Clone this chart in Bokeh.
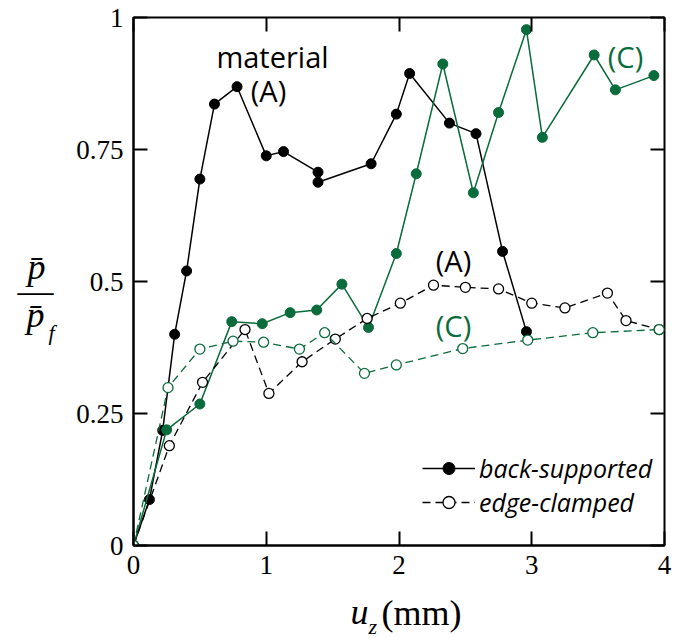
from bokeh.plotting import figure
from bokeh.models import (Range1d, FixedTicker, LinearAxis, Label, Legend, LegendItem,
                          CustomJSTickFormatter)
from bokeh.layouts import row, column
from bokeh.embed import file_html
from bokeh.resources import INLINE

# ---- data ----
a_back_x = [0, 0.12, 0.22, 0.31, 0.40, 0.50, 0.61, 0.78, 1.00, 1.13, 1.39, 1.39, 1.79, 1.98, 2.08, 2.38, 2.58, 2.78, 2.96]
a_back_y = [0, 0.087, 0.218, 0.40, 0.52, 0.694, 0.836, 0.869, 0.738, 0.746, 0.707, 0.688, 0.723, 0.817, 0.894, 0.80, 0.78, 0.557, 0.405]

c_back_x = [0, 0.25, 0.50, 0.74, 0.97, 1.18, 1.38, 1.57, 1.77, 1.98, 2.13, 2.33, 2.56, 2.75, 2.96, 3.08, 3.47, 3.63, 3.92]
c_back_y = [0, 0.219, 0.268, 0.424, 0.420, 0.441, 0.446, 0.495, 0.413, 0.553, 0.704, 0.912, 0.668, 0.820, 0.977, 0.773, 0.929, 0.863, 0.890]

a_edge_x = [0, 0.27, 0.52, 0.84, 1.02, 1.27, 1.52, 1.76, 2.01, 2.26, 2.50, 2.75, 3.00, 3.25, 3.57, 3.71, 3.96]
a_edge_y = [0, 0.189, 0.309, 0.409, 0.288, 0.348, 0.391, 0.430, 0.459, 0.493, 0.489, 0.486, 0.459, 0.450, 0.478, 0.426, 0.409]

c_edge_x = [0, 0.26, 0.50, 0.75, 0.98, 1.25, 1.44, 1.74, 1.98, 2.48, 2.97, 3.46, 3.96]
c_edge_y = [0, 0.299, 0.372, 0.387, 0.385, 0.372, 0.403, 0.326, 0.342, 0.373, 0.389, 0.403, 0.409]

x_ticks = [0, 1, 2, 3, 4]
y_ticks = [0, 0.25, 0.5, 0.75, 1]
legend_labels = ["back-supported", "edge-clamped"]

BLACK = "#000000"
GREEN = "#0a6b3b"

YLAB_W = 66
MAIN_W = 673 - YLAB_W
MAIN_H = 590
XLAB_H = 638 - MAIN_H


def blank(width, height):
    f = figure(width=width, height=height, output_backend="svg", toolbar_location=None,
               x_range=Range1d(0, 1), y_range=Range1d(0, 1),
               x_axis_type=None, y_axis_type=None,
               min_border=0, min_border_left=0, min_border_right=0,
               min_border_top=0, min_border_bottom=0)
    f.grid.visible = False
    f.outline_line_color = None
    f.background_fill_color = "white"
    f.border_fill_color = "white"
    return f


def ann(fig, text, sx, sy, color=BLACK, size="29px", font="Open Sans", style="normal", align="center"):
    fig.add_layout(Label(x=sx, y=sy, x_units="screen", y_units="screen", text=text,
                         text_font=font, text_font_size=size, text_font_style=style,
                         text_color=color, text_align=align, text_baseline="alphabetic"))


p = figure(width=MAIN_W, height=MAIN_H, output_backend="svg", toolbar_location=None,
           x_range=Range1d(0, 4), y_range=Range1d(0, 1),
           min_border_left=133 - YLAB_W, min_border_right=9, min_border_top=17, min_border_bottom=45)
p.background_fill_color = "white"
p.border_fill_color = "white"
p.grid.visible = False
p.outline_line_color = BLACK
p.outline_line_width = 2
p.outline_line_alpha = 1

fmt = CustomJSTickFormatter(code="return tick.toString();")
for ax, ticks in ((p.xaxis[0], x_ticks), (p.yaxis[0], y_ticks)):
    ax.ticker = FixedTicker(ticks=ticks)
    ax.formatter = fmt
    ax.axis_line_width = 2
    ax.axis_line_color = BLACK
    ax.major_tick_in = 14
    ax.major_tick_out = 0
    ax.major_tick_line_width = 2
    ax.major_tick_line_color = BLACK
    ax.minor_tick_line_color = None
    ax.major_label_text_font = "Liberation Serif"
    ax.major_label_text_font_size = "27px"
    ax.major_label_text_color = BLACK
    ax.major_label_standoff = 10

top_ax = LinearAxis(ticker=FixedTicker(ticks=x_ticks), axis_line_color=None,
                    major_tick_in=14, major_tick_out=0, major_tick_line_width=2,
                    minor_tick_line_color=None, major_label_text_color=None,
                    major_label_text_font_size="0px", major_label_standoff=0)
right_ax = LinearAxis(ticker=FixedTicker(ticks=y_ticks), axis_line_color=None,
                      major_tick_in=14, major_tick_out=0, major_tick_line_width=2,
                      minor_tick_line_color=None, major_label_text_color=None,
                      major_label_text_font_size="0px", major_label_standoff=0)
p.add_layout(top_ax, "above")
p.add_layout(right_ax, "right")

# ---- series ----
ab_l = p.line(a_back_x, a_back_y, line_color=BLACK, line_width=1.5)
ab_s = p.scatter(a_back_x, a_back_y, size=10, fill_color=BLACK, line_color=BLACK)

cb_l = p.line(c_back_x, c_back_y, line_color=GREEN, line_width=1.5)
cb_s = p.scatter(c_back_x, c_back_y, size=10, fill_color=GREEN, line_color=GREEN)

ae_l = p.line(a_edge_x, a_edge_y, line_color=BLACK, line_width=1.3, line_dash="8 5")
ae_s = p.scatter(a_edge_x, a_edge_y, size=10, fill_color="white", line_color=BLACK, line_width=1.3)

ce_l = p.line(c_edge_x, c_edge_y, line_color=GREEN, line_width=1.3, line_dash="8 5")
ce_s = p.scatter(c_edge_x, c_edge_y, size=10, fill_color="white", line_color=GREEN, line_width=1.3)

# ---- legend ----
legend = Legend(items=[LegendItem(label=legend_labels[0], renderers=[ab_l, ab_s]),
                       LegendItem(label=legend_labels[1], renderers=[ae_l, ae_s])],
                location=(289, 26), orientation="vertical",
                border_line_color=None, background_fill_alpha=0,
                padding=0, margin=0, spacing=0,
                glyph_width=53, glyph_height=30, label_height=30,
                label_standoff=4,
                label_text_font="Open Sans", label_text_font_style="italic",
                label_text_font_size="25px", label_text_color=BLACK)
p.add_layout(legend)

# ---- in-plot annotations ----
ann(p, "material", 139, 489)
ann(p, "(A)", 135, 455)
ann(p, "(A)", 320, 285)
ann(p, "(C)", 320, 220, color=GREEN)
ann(p, "(C)", 492, 489, color=GREEN)

# ---- y axis label: p-bar over p-bar_f ----
ylab = blank(YLAB_W, 638)
ann(ylab, "p\u0304", 36, 372, size="36px", font="Liberation Serif", style="italic")
ann(ylab, "\u2014", 35, 348, size="36px", font="Liberation Serif")
ann(ylab, "p\u0304", 35, 324, size="36px", font="Liberation Serif", style="italic")
ann(ylab, "f", 48, 306, size="22px", font="Liberation Serif", style="italic", align="left")

# ---- x axis label: u_z (mm) (frame of this strip is aligned with the main frame) ----
xlab = blank(MAIN_W, XLAB_H)
ann(xlab, "u", 217, 27, size="36px", font="Liberation Serif", style="italic", align="left")
ann(xlab, "z", 235, 12, size="22px", font="Liberation Serif", style="italic", align="left")
ann(xlab, "(mm)", 248, 26, size="36px", font="Liberation Serif", align="left")

layout = row(ylab, column(p, xlab))
open("out.html", "w").write(file_html(layout, INLINE))
